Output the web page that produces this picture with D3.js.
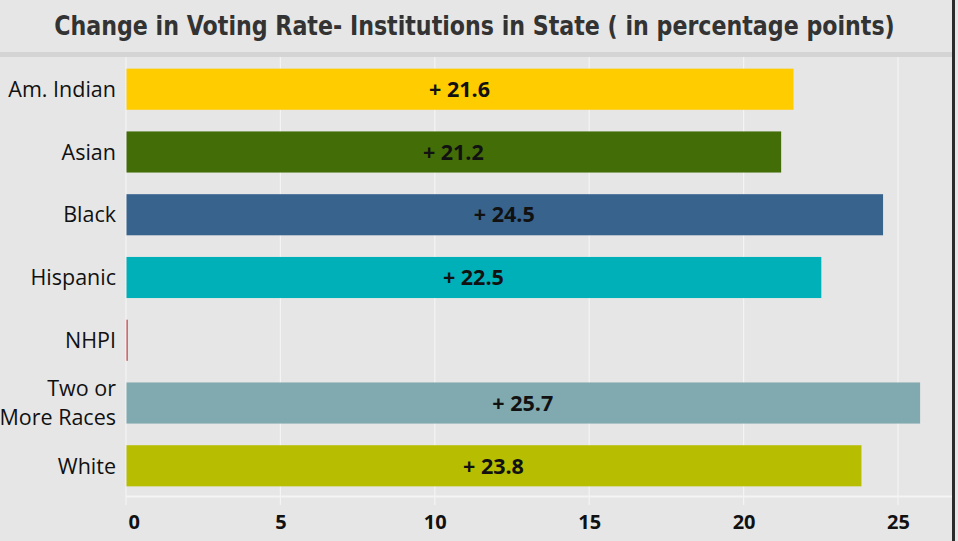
<!DOCTYPE html>
<html>
<head>
<meta charset="utf-8">
<script src="https://cdn.jsdelivr.net/npm/d3@7"></script>
<style>
  body { margin: 0; background: #e6e6e6; }
  svg { display: block; }
  .cat { font-family: 'Open Sans', sans-serif; font-size: 21.5px; fill: #111; }
  .val { font-family: 'Open Sans', sans-serif; font-size: 21.5px; font-weight: bold; fill: #111; }
  .tick text { font-family: 'Open Sans', sans-serif; font-size: 20px; font-weight: bold; fill: #111; }
</style>
</head>
<body>
<script>
const title = 'Change in Voting Rate- Institutions in State ( in percentage points)';
const categories = ['Am. Indian', 'Asian', 'Black', 'Hispanic', 'NHPI', 'Two or More Races', 'White'];
const catLines = [['Am. Indian'], ['Asian'], ['Black'], ['Hispanic'], ['NHPI'], ['Two or', 'More Races'], ['White']];
const values = [21.6, 21.2, 24.5, 22.5, 0.04, 25.7, 23.8];
const showLabel = [true, true, true, true, false, true, true];
const colors = ['#ffcc00', '#436d07', '#37638d', '#00b0b8', '#c0424b', '#80a9b0', '#b7bd00'];
const xTicks = [0, 5, 10, 15, 20, 25];

const W = 958, H = 541;

const svg = d3.select('body').append('svg')
  .attr('width', W)
  .attr('height', H);

svg.append('rect').attr('width', W).attr('height', H).attr('fill', '#e6e6e6');

// title, squeezed horizontally to the reference width
const titleG = svg.append('g');
const titleText = titleG.append('text')
  .attr('x', 0)
  .attr('y', 0)
  .attr('text-anchor', 'middle')
  .style('font-family', "'DejaVu Sans', sans-serif")
  .style('font-size', '27px')
  .style('font-weight', 'bold')
  .style('fill', '#333')
  .text(title);
const tw = titleText.node().getComputedTextLength();
titleG.attr('transform', 'translate(474.5,35) scale(' + (841 / tw) + ',1)');

svg.append('rect').attr('x', 0).attr('y', 52).attr('width', 953).attr('height', 5).attr('fill', '#d4d4d4');
svg.append('rect').attr('x', 952).attr('y', 0).attr('width', 3).attr('height', H).attr('fill', '#2b2b2b');

const x = d3.scaleLinear()
  .domain([0, 25])
  .range([126, 898]);

const y = d3.scaleBand()
  .domain(categories)
  .range([58, 497])
  .paddingInner(0.345)
  .paddingOuter(0.17);

// vertical gridlines
svg.append('g').selectAll('line')
  .data(xTicks)
  .enter()
    .append('line')
    .attr('x1', (d) => x(d))
    .attr('x2', (d) => x(d))
    .attr('y1', 57)
    .attr('y2', 505)
    .attr('stroke', '#f4f4f4')
    .attr('stroke-width', 1.2);

svg.append('line')
  .attr('x1', 126).attr('x2', 952)
  .attr('y1', 496.5).attr('y2', 496.5)
  .attr('stroke', '#f4f4f4')
  .attr('stroke-width', 2);

// bars
svg.append('g').selectAll('rect')
  .data(categories)
  .enter()
    .append('rect')
    .attr('x', x(0) + 0.5)
    .attr('y', (d) => y(d))
    .attr('width', (d, i) => Math.max(1.2, x(values[i]) - x(0)))
    .attr('height', y.bandwidth())
    .attr('fill', (d, i) => colors[i]);

// value labels
svg.append('g').selectAll('text')
  .data(categories.filter((d, i) => showLabel[i]))
  .enter()
    .append('text')
    .attr('class', 'val')
    .attr('x', (d) => (x(0) + x(values[categories.indexOf(d)])) / 2)
    .attr('y', (d) => y(d) + y.bandwidth() / 2)
    .attr('dy', '0.36em')
    .attr('text-anchor', 'middle')
    .text((d) => '+ ' + values[categories.indexOf(d)].toFixed(1));

// category labels
const cats = svg.append('g').selectAll('text')
  .data(categories)
  .enter()
    .append('text')
    .attr('class', 'cat')
    .attr('text-anchor', 'end')
    .attr('x', 116)
    .attr('y', (d) => y(d) + y.bandwidth() / 2);

cats.each(function(d, i) {
  const lines = catLines[i];
  const lh = 29;
  lines.forEach((l, k) => {
    d3.select(this).append('tspan')
      .attr('x', 116)
      .attr('dy', k === 0 ? ((0.36 * 21.5) - (lines.length - 1) * lh / 2) + 'px' : lh + 'px')
      .text(l);
  });
});

// x axis
const xAxis = d3.axisBottom(x)
  .tickValues(xTicks)
  .tickSize(0)
  .tickPadding(0)
  .tickFormat(d3.format('d'));

const xele = svg.append('g')
  .attr('class', 'x axis')
  .attr('transform', 'translate(0,' + 515 + ')')
  .call(xAxis);

xele.select('.domain').remove();
xele.selectAll('.tick text')
  .attr('dy', '0.71em')
  .attr('text-anchor', (d) => d === 0 ? 'start' : 'middle')
  .attr('dx', (d) => d === 0 ? 2 : 0);
</script>
</body>
</html>
